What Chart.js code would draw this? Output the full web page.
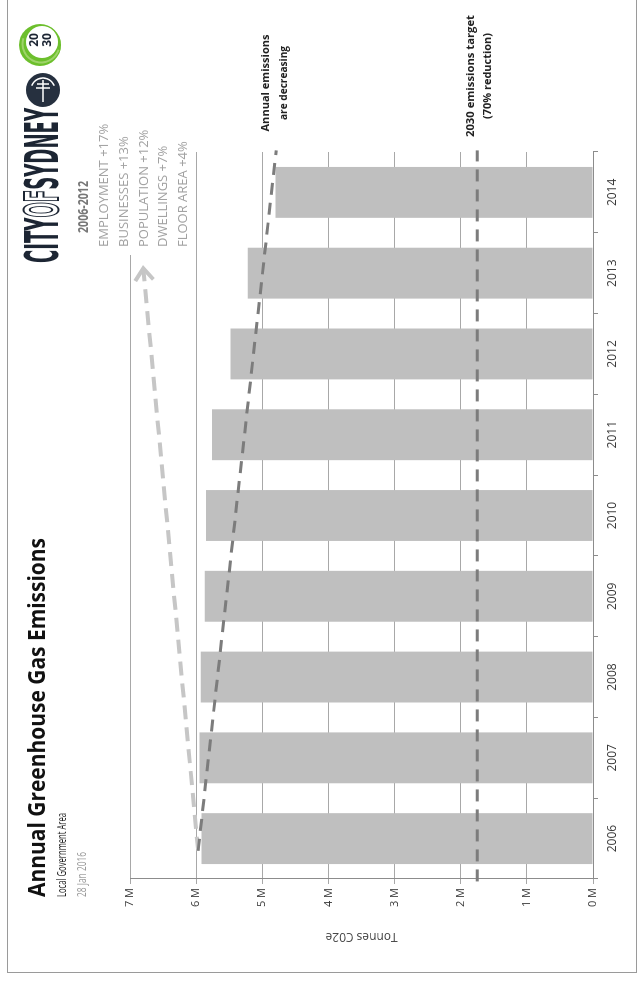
<!DOCTYPE html>
<html>
<head>
<meta charset="utf-8">
<script src="https://cdn.jsdelivr.net/npm/chart.js@4.4.1/dist/chart.umd.min.js"></script>
<style>
html, body { margin: 0; padding: 0; background: #fff; overflow: hidden; width: 642px; height: 988px; }
/* the reference is a landscape chart turned on its side */
#wrap { position: absolute; left: -173px; top: 173px; width: 988px; height: 642px; transform: rotate(-90deg); }
</style>
</head>
<body>
<div id="wrap"><canvas id="myChart" width="988" height="642"></canvas></div>
<script>
const years = ['2006', '2007', '2008', '2009', '2010', '2011', '2012', '2013', '2014'];
const emissions = [5.92, 5.95, 5.93, 5.87, 5.85, 5.76, 5.48, 5.22, 4.80]; // millions of tonnes
const valueTicks = [0, 1, 2, 3, 4, 5, 6, 7];
// dashed guide lines, x = year index (fractional)
const trendLine = [{x: -0.15, y: 5.97}, {x: 8.52, y: 4.79}];
const growthArrow = [{x: -0.15, y: 5.97}, {x: 7.06, y: 6.80}];
const target2030 = [{x: -0.53, y: 1.75}, {x: 8.52, y: 1.75}];
const growthHeading = '2006-2012';
const growthLabels = ['EMPLOYMENT +17%', 'BUSINESSES +13%', 'POPULATION +12%', 'DWELLINGS +7%', 'FLOOR AREA +4%'];

const FONT = '"Open Sans", "DejaVu Sans", sans-serif';

function fitText(ctx, text, x, y, size, weight, color, width, align) {
    ctx.save();
    ctx.font = weight + ' ' + size + 'px ' + FONT;
    ctx.fillStyle = color;
    ctx.textBaseline = 'alphabetic';
    ctx.textAlign = align || 'left';
    const w = ctx.measureText(text).width;
    ctx.translate(x, y);
    if (width) ctx.scale(width / w, 1);
    ctx.fillText(text, 0, 0);
    ctx.restore();
}

function dashed(chart, pts, color, width, dash) {
    const ctx = chart.ctx, xs = chart.scales.x, ys = chart.scales.y;
    ctx.save();
    ctx.strokeStyle = color;
    ctx.lineWidth = width;
    ctx.setLineDash(dash);
    ctx.beginPath();
    pts.forEach((p, i) => {
        const px = xs.getPixelForValue(p.x), py = ys.getPixelForValue(p.y);
        if (i === 0) ctx.moveTo(px, py); else ctx.lineTo(px, py);
    });
    ctx.stroke();
    ctx.restore();
}

const decorations = {
    id: 'decorations',
    beforeDraw(chart) {
        const ctx = chart.ctx;
        ctx.save();
        ctx.strokeStyle = '#9a9a9a';
        ctx.lineWidth = 1;
        ctx.strokeRect(15.5, 7.5, 1000, 629);
        ctx.restore();
    },
    afterDatasetsDraw(chart) {
        const ctx = chart.ctx, xs = chart.scales.x, ys = chart.scales.y;
        dashed(chart, growthArrow, '#c6c6c6', 4, [14, 8]);
        dashed(chart, trendLine, '#7c7c7c', 3, [12, 8]);
        dashed(chart, target2030, '#7c7c7c', 3, [12, 8]);

        // arrow head on the growth line
        const p0x = xs.getPixelForValue(growthArrow[0].x), p0y = ys.getPixelForValue(growthArrow[0].y);
        const p1x = xs.getPixelForValue(growthArrow[1].x), p1y = ys.getPixelForValue(growthArrow[1].y);
        const a = Math.atan2(p1y - p0y, p1x - p0x);
        ctx.save();
        ctx.strokeStyle = '#c6c6c6';
        ctx.lineWidth = 4;
        ctx.beginPath();
        ctx.moveTo(p1x - 15 * Math.cos(a - 0.65), p1y - 15 * Math.sin(a - 0.65));
        ctx.lineTo(p1x, p1y);
        ctx.lineTo(p1x - 15 * Math.cos(a + 0.65), p1y - 15 * Math.sin(a + 0.65));
        ctx.stroke();
        ctx.restore();
    },
    afterDraw(chart) {
        const ctx = chart.ctx;

        // titles
        fitText(ctx, 'Annual Greenhouse Gas Emissions', 91, 45, 24, 'bold', '#111', 359);
        fitText(ctx, 'Local Government Area', 91, 66, 12.5, 'normal', '#222', 84);
        fitText(ctx, '28 Jan 2016', 91, 86, 12.5, 'normal', '#999', 45);

        // growth box
        ctx.save();
        ctx.fillStyle = '#fff';
        ctx.fillRect(733, 68, 135, 124);
        ctx.restore();
        fitText(ctx, growthHeading, 755, 88, 13.5, 'bold', '#777', 52);
        growthLabels.forEach((t, i) => {
            fitText(ctx, t, 741, 108 + i * 19.8, 13, 'normal', '#a2a2a2');
        });

        // notes
        fitText(ctx, 'Annual emissions', 905, 269, 11, 'bold', '#222', 97, 'center');
        fitText(ctx, 'are decreasing', 905, 287, 11, 'bold', '#222', 74, 'center');
        fitText(ctx, '2030 emissions target', 912, 474, 11, 'bold', '#222', 122, 'center');
        fitText(ctx, '(70% reduction)', 912, 491, 11, 'bold', '#222', 86, 'center');

        // City of Sydney logo
        ctx.save();
        ctx.font = 'bold 46px "DejaVu Sans Condensed", "Liberation Sans Narrow", ' + FONT;
        const parts = ['CITY', 'OF', 'SYDNEY'];
        const widths = parts.map(p => ctx.measureText(p).width);
        const total = widths.reduce((s, w) => s + w, 0);
        ctx.translate(725, 58);
        ctx.scale(155 / total, 1);
        ctx.fillStyle = '#1c2533';
        ctx.strokeStyle = '#1c2533';
        ctx.lineWidth = 2;
        let cx = 0;
        parts.forEach((p, i) => {
            if (i === 1) ctx.strokeText(p, cx, 0); else ctx.fillText(p, cx, 0);
            cx += widths[i];
        });
        ctx.restore();

        ctx.save();
        ctx.fillStyle = '#26303f';
        ctx.beginPath();
        ctx.arc(898, 43, 17, 0, Math.PI * 2);
        ctx.fill();
        ctx.strokeStyle = '#fff';
        ctx.lineWidth = 1.5;
        ctx.beginPath();
        ctx.moveTo(886, 43); ctx.lineTo(908, 43);
        ctx.moveTo(900, 36); ctx.lineTo(900, 50);
        ctx.moveTo(904, 37); ctx.lineTo(904, 49);
        ctx.stroke();
        ctx.beginPath();
        ctx.arc(898, 43, 12, -1.2, 1.2);
        ctx.stroke();

        ctx.fillStyle = '#6cbf2c';
        ctx.beginPath();
        ctx.arc(943, 40, 21, 0, Math.PI * 2);
        ctx.fill();
        ctx.fillStyle = '#fff';
        ctx.beginPath();
        ctx.arc(946, 42, 16, 0, Math.PI * 2);
        ctx.fill();
        ctx.strokeStyle = '#9ed36a';
        ctx.lineWidth = 2;
        ctx.beginPath();
        ctx.arc(944, 41, 18.5, Math.PI * 0.6, Math.PI * 1.6);
        ctx.stroke();
        ctx.fillStyle = '#1c2533';
        ctx.font = 'bold 12px ' + FONT;
        ctx.textAlign = 'center';
        ctx.fillText('20', 948, 38);
        ctx.fillText('30', 948, 51);
        ctx.restore();
    }
};

const ctx = document.getElementById('myChart').getContext('2d');
const myChart = new Chart(ctx, {
    type: 'bar',
    data: {
        labels: years,
        datasets: [{
            label: 'Tonnes C02e',
            data: emissions,
            backgroundColor: '#bfbfbf',
            borderWidth: 0,
            categoryPercentage: 1,
            barPercentage: 0.63
        }]
    },
    options: {
        responsive: false,
        animation: false,
        layout: { padding: { top: 130, right: 152, left: 0, bottom: 0 } },
        plugins: { legend: { display: false }, tooltip: { enabled: false } },
        scales: {
            x: {
                offset: true,
                afterFit: s => { s.height = 49; },
                grid: { drawOnChartArea: false, drawTicks: true, tickLength: 5, color: '#8c8c8c' },
                border: { display: true, color: '#8c8c8c' },
                ticks: { color: '#3a3a3a', font: { family: FONT, size: 12 }, padding: 7, maxRotation: 0 }
            },
            y: {
                min: 0,
                max: 7,
                afterFit: s => { s.width = 109; },
                afterBuildTicks: s => { s.ticks = valueTicks.map(v => ({value: v})); },
                grid: { color: '#a8a8a8', tickLength: 5 },
                border: { display: true, color: '#8c8c8c' },
                ticks: { color: '#3a3a3a', font: { family: FONT, size: 11 }, padding: 4, callback: v => v + ' M' },
                title: { display: true, text: 'Tonnes C02e', color: '#444', font: { family: FONT, size: 12 }, padding: { top: 44, bottom: 0 } }
            }
        }
    },
    plugins: [decorations]
});
</script>
</body>
</html>
